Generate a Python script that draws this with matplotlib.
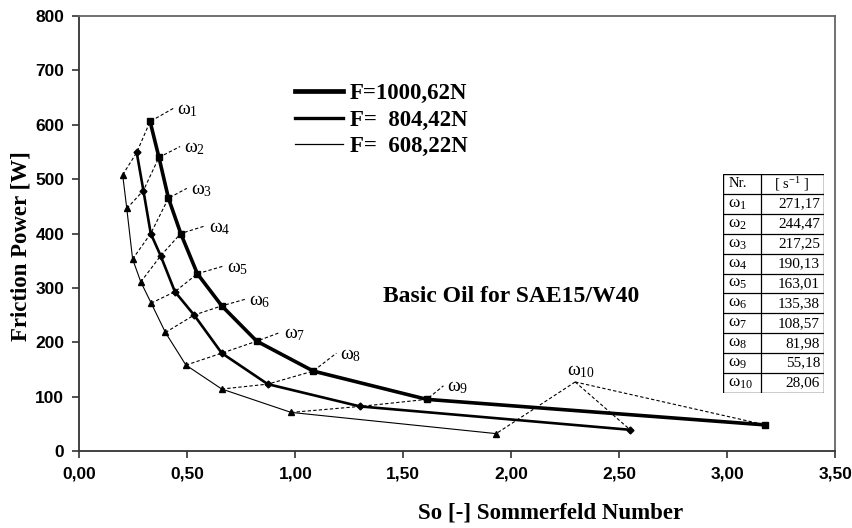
import matplotlib
matplotlib.use("Agg")
import matplotlib.pyplot as plt
from matplotlib.lines import Line2D
from matplotlib.ticker import FuncFormatter

plt.rcParams['mathtext.fontset'] = 'custom'
plt.rcParams['mathtext.rm'] = 'Liberation Serif'
plt.rcParams['mathtext.it'] = 'Liberation Serif'

# Sommerfeld number / friction power for the three loads, omega_1 .. omega_10
so_f1000 = [0.327, 0.368, 0.412, 0.469, 0.546, 0.659, 0.821, 1.083, 1.609, 3.177]
pw_f1000 = [606, 540, 465, 400, 326, 267, 202, 147, 95, 48]
so_f804 = [0.265, 0.296, 0.330, 0.376, 0.442, 0.531, 0.659, 0.872, 1.300, 2.551]
pw_f804 = [549, 479, 400, 359, 293, 250, 180, 123, 82, 39]
so_f608 = [0.200, 0.219, 0.246, 0.284, 0.332, 0.398, 0.493, 0.659, 0.980, 1.930]
pw_f608 = [508, 446, 353, 311, 272, 218, 158, 114, 71, 32]

load_labels = ["F=1000,62N", "F=  804,42N", "F=  608,22N"]

# where the omega leader lines end (label anchor), omega_1 .. omega_9, then omega_10 hub
lead_so = [0.434, 0.466, 0.497, 0.582, 0.666, 0.767, 0.929, 1.190, 1.686]
lead_pw = [630, 560, 483, 414, 340, 279, 218, 180, 120]
hub10 = (2.296, 127)

omega_nr = [1, 2, 3, 4, 5, 6, 7, 8, 9, 10]
omega_val = [271.17, 244.47, 217.25, 190.13, 163.01, 135.38, 108.57, 81.98, 55.18, 28.06]

xticks = [0, 0.5, 1.0, 1.5, 2.0, 2.5, 3.0, 3.5]
yticks = [0, 100, 200, 300, 400, 500, 600, 700, 800]

fig = plt.figure(figsize=(8.53, 5.28), dpi=100)
ax = fig.add_axes([0.0932, 0.1458, 0.8858, 0.8239])

dash = dict(color="black", lw=0.8, ls=(0, (3, 2)), zorder=2)

# iso-omega dashed lines
for i in range(9):
    ax.plot([so_f608[i], so_f804[i], so_f1000[i], lead_so[i]],
            [pw_f608[i], pw_f804[i], pw_f1000[i], lead_pw[i]], **dash)
    ax.annotate(r"$\mathrm{\omega}_{%d}$" % omega_nr[i], (lead_so[i], lead_pw[i]),
                xytext=(4, -6), textcoords="offset pixels", ha="left", va="baseline",
                fontsize=14)
for sx, py in [(so_f608[9], pw_f608[9]), (so_f804[9], pw_f804[9]), (so_f1000[9], pw_f1000[9])]:
    ax.plot([hub10[0], sx], [hub10[1], py], **dash)
ax.annotate(r"$\mathrm{\omega}_{10}$", hub10, xytext=(-8, 7), textcoords="offset pixels",
            ha="left", va="baseline", fontsize=14)

ax.plot(so_f1000, pw_f1000, color="black", lw=2.6, marker="s", ms=5, zorder=3)
ax.plot(so_f804, pw_f804, color="black", lw=1.9, marker="D", ms=3.5, zorder=3)
ax.plot(so_f608, pw_f608, color="black", lw=0.8, marker="^", ms=5, zorder=3)

handles = [Line2D([], [], color="black", lw=3.4),
           Line2D([], [], color="black", lw=2.4),
           Line2D([], [], color="black", lw=0.9)]
ax.legend(handles, load_labels, loc="upper left", bbox_to_anchor=(0.285, 0.845),
          frameon=False, borderpad=0, borderaxespad=0, handlelength=2.1,
          handletextpad=0.3, labelspacing=0.22,
          prop=dict(family="Liberation Serif", weight="bold", size=16.5))

ax.text(0.402, 0.356, "Basic Oil for SAE15/W40", transform=ax.transAxes,
        family="Liberation Serif", weight="bold", fontsize=17, va="center")

ax.set_xlim(0, 3.5)
ax.set_ylim(0, 800)
ax.set_xticks(xticks)
ax.set_yticks(yticks)
ax.xaxis.set_major_formatter(FuncFormatter(lambda v, p: f"{v:.2f}".replace(".", ",")))
ax.tick_params(direction="out", length=5, width=1.2, color="#333333", pad=6)
for lab in ax.get_xticklabels() + ax.get_yticklabels():
    lab.set_family("Liberation Sans")
    lab.set_weight("bold")
    lab.set_fontsize(12.5)

for side in ["left", "bottom"]:
    ax.spines[side].set_color("#333333")
    ax.spines[side].set_linewidth(1.3)
for side in ["top", "right"]:
    ax.spines[side].set_color("#666666")
    ax.spines[side].set_linewidth(1.3)

ax.set_xlabel("So [-] Sommerfeld Number", family="Liberation Serif", weight="bold", fontsize=16.5)
ax.xaxis.set_label_coords(0.623, -0.118)
ax.set_ylabel("Friction Power [W]", family="Liberation Serif", weight="bold", fontsize=16.5)
ax.yaxis.set_label_coords(-0.064, 0.47)

# omega table
tab = fig.add_axes([0.8476, 0.2557, 0.1184, 0.4148])
tab.set_xlim(0, 1)
tab.set_ylim(11, 0)
tab.axis("off")
tab.add_patch(plt.Rectangle((0, 0), 1, 11, fill=True, facecolor="white", edgecolor="black", lw=1.0))
for r in range(1, 11):
    tab.plot([0, 1], [r, r], color="black", lw=0.9)
tab.plot([0.376, 0.376], [0, 11], color="black", lw=0.9)
tab.text(0.06, 0.5, "Nr.", va="center", ha="left", fontsize=10.5, family="Liberation Serif")
tab.text(0.68, 0.5, r"[ s$^{\mathrm{-1}}$ ]", va="center", ha="center", fontsize=10.5,
         family="Liberation Serif")
for r, (n, v) in enumerate(zip(omega_nr, omega_val), start=1):
    tab.text(0.05, r + 0.45, r"$\mathrm{\omega}_{%d}$" % n, va="center", ha="left", fontsize=12.5)
    tab.text(0.96, r + 0.5, f"{v:.2f}".replace(".", ","), va="center", ha="right",
             fontsize=11, family="Liberation Serif")

fig.savefig("out.png", dpi=100)
